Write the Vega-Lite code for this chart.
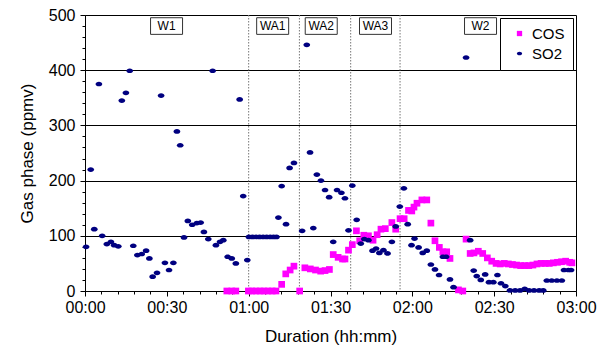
{
  "$schema": "https://vega.github.io/schema/vega-lite/v6.json",
  "width": 491,
  "height": 276,
  "autosize": {"type": "none"},
  "padding": {"left": 85, "top": 15, "right": 26, "bottom": 59},
  "background": "white",
  "config": {
    "font": "Liberation Sans",
    "view": {"stroke": "black", "strokeWidth": 1},
    "axis": {"domainColor": "black", "tickColor": "black", "labelColor": "black", "titleColor": "black", "titleFontWeight": "normal", "labelFlush": false, "labelOverlap": false}
  },
  "layer": [
    {
      "data": {"values": [{"t": 60}, {"t": 78.6}, {"t": 97.4}, {"t": 115.5}]},
      "mark": {"type": "rule", "color": "#777777", "strokeDash": [1.5, 1.5], "strokeWidth": 1},
      "encoding": {"x": {"field": "t", "type": "quantitative", "scale": {"domain": [0, 180], "nice": false}}}
    },
    {
      "data": {"values": [
        {"s": "COS", "t": 52.0, "v": 0}, {"s": "COS", "t": 53.8, "v": 0}, {"s": "COS", "t": 55.3, "v": 0},
        {"s": "COS", "t": 59.9, "v": 0}, {"s": "COS", "t": 61.2, "v": 0}, {"s": "COS", "t": 62.7, "v": 0},
        {"s": "COS", "t": 64.2, "v": 0}, {"s": "COS", "t": 65.6, "v": 0}, {"s": "COS", "t": 67.1, "v": 0},
        {"s": "COS", "t": 68.6, "v": 0}, {"s": "COS", "t": 70.0, "v": 0}, {"s": "COS", "t": 72.1, "v": 12},
        {"s": "COS", "t": 73.6, "v": 31}, {"s": "COS", "t": 75.2, "v": 38}, {"s": "COS", "t": 76.6, "v": 45},
        {"s": "COS", "t": 78.7, "v": 0}, {"s": "COS", "t": 80.6, "v": 42}, {"s": "COS", "t": 82.6, "v": 40},
        {"s": "COS", "t": 84.5, "v": 38}, {"s": "COS", "t": 86.4, "v": 36}, {"s": "COS", "t": 88.0, "v": 37},
        {"s": "COS", "t": 89.6, "v": 39}, {"s": "COS", "t": 91.0, "v": 66}, {"s": "COS", "t": 92.8, "v": 61},
        {"s": "COS", "t": 94.4, "v": 58}, {"s": "COS", "t": 95.3, "v": 58}, {"s": "COS", "t": 96.6, "v": 74},
        {"s": "COS", "t": 98.0, "v": 84}, {"s": "COS", "t": 99.5, "v": 109}, {"s": "COS", "t": 100.7, "v": 91},
        {"s": "COS", "t": 102.2, "v": 101}, {"s": "COS", "t": 103.9, "v": 100}, {"s": "COS", "t": 105.6, "v": 92},
        {"s": "COS", "t": 107.1, "v": 102}, {"s": "COS", "t": 108.5, "v": 112}, {"s": "COS", "t": 110.1, "v": 113},
        {"s": "COS", "t": 112.5, "v": 124}, {"s": "COS", "t": 113.9, "v": 112}, {"s": "COS", "t": 115.5, "v": 131},
        {"s": "COS", "t": 117.0, "v": 131}, {"s": "COS", "t": 118.6, "v": 146}, {"s": "COS", "t": 119.8, "v": 145},
        {"s": "COS", "t": 120.6, "v": 152}, {"s": "COS", "t": 121.7, "v": 159}, {"s": "COS", "t": 123.5, "v": 165},
        {"s": "COS", "t": 125.3, "v": 165}, {"s": "COS", "t": 126.8, "v": 123}, {"s": "COS", "t": 128.3, "v": 91},
        {"s": "COS", "t": 129.9, "v": 79}, {"s": "COS", "t": 131.2, "v": 71}, {"s": "COS", "t": 132.6, "v": 71},
        {"s": "COS", "t": 133.8, "v": 59}, {"s": "COS", "t": 136.9, "v": 2}, {"s": "COS", "t": 138.5, "v": 0},
        {"s": "COS", "t": 139.7, "v": 94}, {"s": "COS", "t": 141.2, "v": 68}, {"s": "COS", "t": 142.6, "v": 69},
        {"s": "COS", "t": 144.2, "v": 72}, {"s": "COS", "t": 145.8, "v": 68}, {"s": "COS", "t": 147.5, "v": 60},
        {"s": "COS", "t": 149.1, "v": 54}, {"s": "COS", "t": 150.7, "v": 50}, {"s": "COS", "t": 152.2, "v": 49},
        {"s": "COS", "t": 153.7, "v": 50}, {"s": "COS", "t": 155.2, "v": 49}, {"s": "COS", "t": 156.7, "v": 48},
        {"s": "COS", "t": 158.2, "v": 47}, {"s": "COS", "t": 159.7, "v": 46}, {"s": "COS", "t": 161.2, "v": 46},
        {"s": "COS", "t": 162.7, "v": 46}, {"s": "COS", "t": 164.2, "v": 47}, {"s": "COS", "t": 165.7, "v": 49},
        {"s": "COS", "t": 167.2, "v": 50}, {"s": "COS", "t": 168.7, "v": 50}, {"s": "COS", "t": 170.2, "v": 50},
        {"s": "COS", "t": 171.7, "v": 51}, {"s": "COS", "t": 173.2, "v": 52}, {"s": "COS", "t": 174.7, "v": 53},
        {"s": "COS", "t": 176.2, "v": 54}, {"s": "COS", "t": 177.7, "v": 52}, {"s": "COS", "t": 178.5, "v": 51},
        {"s": "SO2", "t": 0.4, "v": 80}, {"s": "SO2", "t": 2.1, "v": 220}, {"s": "SO2", "t": 3.4, "v": 112},
        {"s": "SO2", "t": 5.1, "v": 375}, {"s": "SO2", "t": 6.3, "v": 100}, {"s": "SO2", "t": 8.0, "v": 85},
        {"s": "SO2", "t": 9.5, "v": 89}, {"s": "SO2", "t": 10.7, "v": 83}, {"s": "SO2", "t": 12.2, "v": 81},
        {"s": "SO2", "t": 13.5, "v": 345}, {"s": "SO2", "t": 15.0, "v": 359}, {"s": "SO2", "t": 16.4, "v": 399},
        {"s": "SO2", "t": 17.7, "v": 82}, {"s": "SO2", "t": 19.2, "v": 65}, {"s": "SO2", "t": 20.8, "v": 67},
        {"s": "SO2", "t": 22.4, "v": 73}, {"s": "SO2", "t": 23.6, "v": 59}, {"s": "SO2", "t": 24.8, "v": 26},
        {"s": "SO2", "t": 26.4, "v": 33}, {"s": "SO2", "t": 27.9, "v": 354}, {"s": "SO2", "t": 29.3, "v": 51},
        {"s": "SO2", "t": 30.8, "v": 38}, {"s": "SO2", "t": 32.4, "v": 51}, {"s": "SO2", "t": 33.7, "v": 289},
        {"s": "SO2", "t": 34.9, "v": 264}, {"s": "SO2", "t": 36.3, "v": 97}, {"s": "SO2", "t": 37.7, "v": 127},
        {"s": "SO2", "t": 39.3, "v": 120}, {"s": "SO2", "t": 41.0, "v": 123}, {"s": "SO2", "t": 42.4, "v": 124},
        {"s": "SO2", "t": 43.6, "v": 107}, {"s": "SO2", "t": 45.2, "v": 94}, {"s": "SO2", "t": 46.8, "v": 399},
        {"s": "SO2", "t": 48.0, "v": 83}, {"s": "SO2", "t": 49.5, "v": 89}, {"s": "SO2", "t": 50.7, "v": 92},
        {"s": "SO2", "t": 52.3, "v": 62}, {"s": "SO2", "t": 53.8, "v": 59}, {"s": "SO2", "t": 55.3, "v": 50},
        {"s": "SO2", "t": 56.7, "v": 347}, {"s": "SO2", "t": 58.0, "v": 172}, {"s": "SO2", "t": 59.5, "v": 56},
        {"s": "SO2", "t": 60.1, "v": 98}, {"s": "SO2", "t": 61.4, "v": 98}, {"s": "SO2", "t": 62.7, "v": 98},
        {"s": "SO2", "t": 64.0, "v": 98}, {"s": "SO2", "t": 65.3, "v": 98}, {"s": "SO2", "t": 66.6, "v": 98},
        {"s": "SO2", "t": 67.9, "v": 98}, {"s": "SO2", "t": 69.1, "v": 98}, {"s": "SO2", "t": 70.2, "v": 98},
        {"s": "SO2", "t": 70.9, "v": 133}, {"s": "SO2", "t": 72.1, "v": 190}, {"s": "SO2", "t": 73.7, "v": 121},
        {"s": "SO2", "t": 75.0, "v": 223}, {"s": "SO2", "t": 76.6, "v": 232}, {"s": "SO2", "t": 79.6, "v": 109},
        {"s": "SO2", "t": 81.3, "v": 446}, {"s": "SO2", "t": 82.5, "v": 251}, {"s": "SO2", "t": 83.7, "v": 114},
        {"s": "SO2", "t": 85.0, "v": 211}, {"s": "SO2", "t": 86.5, "v": 200}, {"s": "SO2", "t": 88.0, "v": 183},
        {"s": "SO2", "t": 89.5, "v": 170}, {"s": "SO2", "t": 91.0, "v": 89}, {"s": "SO2", "t": 92.4, "v": 183},
        {"s": "SO2", "t": 94.0, "v": 178}, {"s": "SO2", "t": 95.3, "v": 168}, {"s": "SO2", "t": 96.6, "v": 110},
        {"s": "SO2", "t": 98.0, "v": 191}, {"s": "SO2", "t": 99.6, "v": 129}, {"s": "SO2", "t": 101.1, "v": 86},
        {"s": "SO2", "t": 102.4, "v": 94}, {"s": "SO2", "t": 103.9, "v": 92}, {"s": "SO2", "t": 105.4, "v": 73},
        {"s": "SO2", "t": 106.7, "v": 77}, {"s": "SO2", "t": 107.9, "v": 69}, {"s": "SO2", "t": 109.4, "v": 74},
        {"s": "SO2", "t": 110.9, "v": 68}, {"s": "SO2", "t": 112.5, "v": 89}, {"s": "SO2", "t": 113.9, "v": 117},
        {"s": "SO2", "t": 115.4, "v": 153}, {"s": "SO2", "t": 116.9, "v": 186}, {"s": "SO2", "t": 118.3, "v": 121},
        {"s": "SO2", "t": 119.7, "v": 83}, {"s": "SO2", "t": 120.8, "v": 95}, {"s": "SO2", "t": 122.3, "v": 79},
        {"s": "SO2", "t": 123.8, "v": 69}, {"s": "SO2", "t": 125.3, "v": 73}, {"s": "SO2", "t": 126.8, "v": 48},
        {"s": "SO2", "t": 128.3, "v": 39}, {"s": "SO2", "t": 129.8, "v": 29}, {"s": "SO2", "t": 131.2, "v": 62},
        {"s": "SO2", "t": 132.4, "v": 62}, {"s": "SO2", "t": 133.8, "v": 21}, {"s": "SO2", "t": 135.1, "v": 7},
        {"s": "SO2", "t": 139.7, "v": 423}, {"s": "SO2", "t": 141.2, "v": 92}, {"s": "SO2", "t": 142.5, "v": 37},
        {"s": "SO2", "t": 143.6, "v": 27}, {"s": "SO2", "t": 145.1, "v": 20}, {"s": "SO2", "t": 146.7, "v": 30},
        {"s": "SO2", "t": 148.1, "v": 16}, {"s": "SO2", "t": 149.7, "v": 16}, {"s": "SO2", "t": 151.2, "v": 29},
        {"s": "SO2", "t": 152.5, "v": 14}, {"s": "SO2", "t": 154.1, "v": 9}, {"s": "SO2", "t": 155.8, "v": 1},
        {"s": "SO2", "t": 157.7, "v": 1}, {"s": "SO2", "t": 159.5, "v": 1}, {"s": "SO2", "t": 161.2, "v": 4},
        {"s": "SO2", "t": 162.8, "v": 1}, {"s": "SO2", "t": 164.6, "v": 1}, {"s": "SO2", "t": 166.5, "v": 1},
        {"s": "SO2", "t": 168.0, "v": 1}, {"s": "SO2", "t": 169.3, "v": 19}, {"s": "SO2", "t": 171.1, "v": 19},
        {"s": "SO2", "t": 173.0, "v": 19}, {"s": "SO2", "t": 174.8, "v": 19}, {"s": "SO2", "t": 175.6, "v": 38},
        {"s": "SO2", "t": 177.2, "v": 38}, {"s": "SO2", "t": 178.2, "v": 38}
      ]},
      "mark": {"type": "point", "filled": true, "opacity": 1, "size": 45},
      "encoding": {
        "x": {
          "field": "t", "type": "quantitative",
          "scale": {"domain": [0, 180], "nice": false},
          "axis": {
            "values": [0, 6, 12, 18, 24, 30, 36, 42, 48, 54, 60, 66, 72, 78, 84, 90, 96, 102, 108, 114, 120, 126, 132, 138, 144, 150, 156, 162, 168, 174, 180],
            "tickCount": 200,
            "labelExpr": "datum.value % 30 == 0 ? (floor(datum.value/60) < 10 ? '0' : '') + floor(datum.value/60) + ':' + (datum.value % 60 < 10 ? '0' : '') + (datum.value % 60) : ''",
            "tickSize": {"condition": {"test": "datum.value % 30 == 0", "value": 5}, "value": 3},
            "labelOverlap": false,
            "labelFlush": false,
            "grid": false,
            "labelFontSize": 16,
            "labelPadding": 3,
            "title": "Duration (hh:mm)",
            "titleFontSize": 17,
            "titlePadding": 13
          }
        },
        "y": {
          "field": "v", "type": "quantitative",
          "scale": {"domain": [0, 500], "nice": false},
          "axis": {
            "values": [0, 20, 40, 60, 80, 100, 120, 140, 160, 180, 200, 220, 240, 260, 280, 300, 320, 340, 360, 380, 400, 420, 440, 460, 480, 500],
            "tickCount": 200,
            "labelExpr": "datum.value % 100 == 0 ? datum.label : ''",
            "tickSize": {"condition": {"test": "datum.value % 100 == 0", "value": 5}, "value": 3},
            "labelOverlap": false,
            "labelFlush": false,
            "grid": true,
            "gridColor": "black",
            "gridOpacity": {"condition": {"test": "datum.value % 100 == 0 && datum.value > 0 && datum.value < 500", "value": 1}, "value": 0},
            "labelFontSize": 16,
            "labelPadding": 5,
            "title": "Gas phase (ppmv)",
            "titleFontSize": 17,
            "titlePadding": 12
          }
        },
        "color": {
          "field": "s", "type": "nominal",
          "scale": {"domain": ["COS", "SO2"], "range": ["#FF00FF", "#000080"]},
          "legend": {
            "title": null, "orient": "top-right", "offset": 3,
            "strokeColor": "black", "fillColor": "white", "padding": 8,
            "labelFontSize": 15, "labelColor": "black", "symbolSize": 28, "rowPadding": 4, "labelOffset": 5, "symbolOffset": 4
          }
        },
        "shape": {
          "field": "s", "type": "nominal",
          "scale": {"domain": ["COS", "SO2"], "range": ["square", "M-1,0A1,0.7,0,1,1,1,0A1,0.7,0,1,1,-1,0Z"]},
          "legend": null
        },
        "order": {"field": "s", "sort": "ascending"}
      }
    },
    {
      "data": {"values": [
        {"label": "W1", "t": 29.9},
        {"label": "WA1", "t": 68.8},
        {"label": "WA2", "t": 86.6},
        {"label": "WA3", "t": 106.5},
        {"label": "W2", "t": 145}
      ]},
      "layer": [
        {
          "mark": {"type": "point", "shape": "M-1,-0.52H1V0.52H-1Z", "size": 1024, "filled": true, "fill": "white", "stroke": "#333333", "strokeWidth": 1, "opacity": 1},
          "encoding": {
            "x": {"field": "t", "type": "quantitative"},
            "y": {"datum": 480, "type": "quantitative"}
          }
        },
        {
          "mark": {"type": "text", "fontSize": 12, "color": "black", "align": "center", "baseline": "middle"},
          "encoding": {
            "x": {"field": "t", "type": "quantitative"},
            "y": {"datum": 480, "type": "quantitative"},
            "text": {"field": "label"}
          }
        }
      ]
    }
  ]
}
